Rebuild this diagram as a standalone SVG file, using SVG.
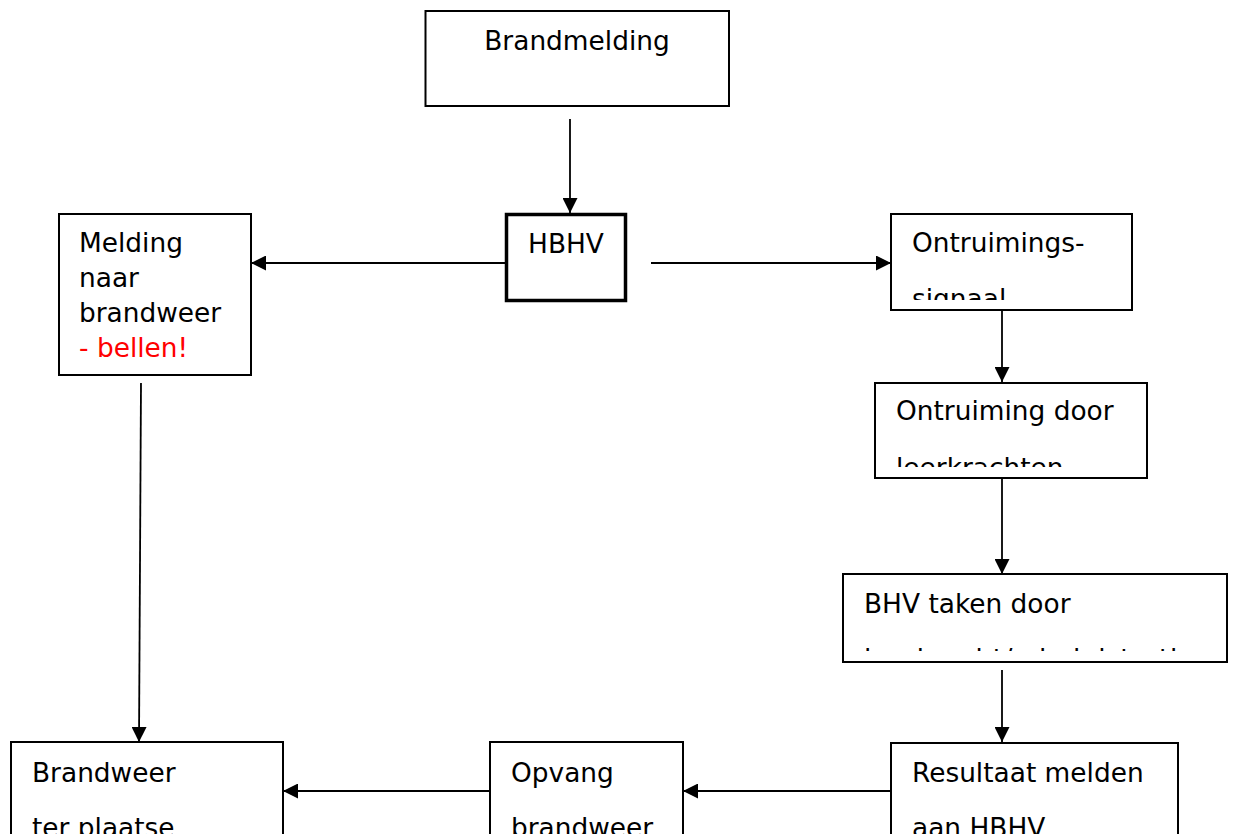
<svg xmlns="http://www.w3.org/2000/svg" width="1233" height="834" viewBox="0 0 1233 834">
<style>
.box{fill:#fff;stroke:#000;stroke-width:2}
.thick{fill:#fff;stroke:#000;stroke-width:3.5}
.t{font-family:"DejaVu Sans",Verdana,sans-serif;font-size:26.4px;fill:#000}
.red{fill:#ff0000}
.c{stroke:#000;stroke-width:1.8;fill:none;marker-end:url(#ah)}
</style>
<defs>
<marker id="ah" markerUnits="userSpaceOnUse" markerWidth="15" markerHeight="15" refX="15" refY="7.5" orient="auto">
<path d="M0,0 L15,7.5 L0,15 z" fill="#000"/>
</marker>
<clipPath id="cp1"><rect x="891" y="214" width="241" height="86"/></clipPath>
<clipPath id="cp2"><rect x="875" y="383" width="272" height="84"/></clipPath>
<clipPath id="cp3"><rect x="843" y="574" width="384" height="77"/></clipPath>
</defs>
<g id="connectors">
<path class="c" d="M570,119 V213"/>
<path class="c" d="M505,263 H251"/>
<path class="c" d="M651,263 H891"/>
<path class="c" d="M1002,311 V382"/>
<path class="c" d="M1002,479 V574"/>
<path class="c" d="M1002,670 V742"/>
<path class="c" d="M891,791 H683"/>
<path class="c" d="M490,791 H283"/>
<path class="c" d="M141,383 L139,742"/>
</g>
<g id="brandmelding">
<rect class="box" x="425.5" y="11" width="303.5" height="95"/>
<text class="t" x="577" y="50" text-anchor="middle">Brandmelding</text>
</g>
<g id="hbhv">
<rect class="thick" x="506.5" y="214.5" width="119" height="86"/>
<text class="t" x="566" y="253" text-anchor="middle">HBHV</text>
</g>
<g id="melding">
<rect class="box" x="59" y="214" width="192" height="161"/>
<text class="t" x="79" y="252">Melding</text>
<text class="t" x="79" y="287">naar</text>
<text class="t" x="79" y="322">brandweer</text>
<text class="t red" x="79" y="357">- bellen!</text>
</g>
<g id="ontruimingssignaal">
<rect class="box" x="891" y="214" width="241" height="96"/>
<text class="t" x="912" y="252">Ontruimings-</text>
<text class="t" x="912" y="308" clip-path="url(#cp1)">signaal</text>
</g>
<g id="ontruiming">
<rect class="box" x="875" y="383" width="272" height="95"/>
<text class="t" x="896" y="420">Ontruiming door</text>
<text class="t" x="896" y="477" clip-path="url(#cp2)">leerkrachten</text>
</g>
<g id="bhvtaken">
<rect class="box" x="843" y="574" width="384" height="88"/>
<text class="t" x="864" y="613">BHV taken door</text>
<text class="t" x="864" y="668" clip-path="url(#cp3)" textLength="330" lengthAdjust="spacing">leerkracht/administratie</text>
</g>
<g id="resultaat">
<rect class="box" x="891" y="743" width="287" height="110"/>
<text class="t" x="912" y="782">Resultaat melden</text>
<text class="t" x="912" y="837">aan HBHV</text>
</g>
<g id="opvang">
<rect class="box" x="490" y="742" width="193" height="110"/>
<text class="t" x="511" y="782">Opvang</text>
<text class="t" x="511" y="837">brandweer</text>
</g>
<g id="brandweer">
<rect class="box" x="11" y="742" width="272" height="110"/>
<text class="t" x="32" y="782">Brandweer</text>
<text class="t" x="32" y="837">ter plaatse</text>
</g>
</svg>
